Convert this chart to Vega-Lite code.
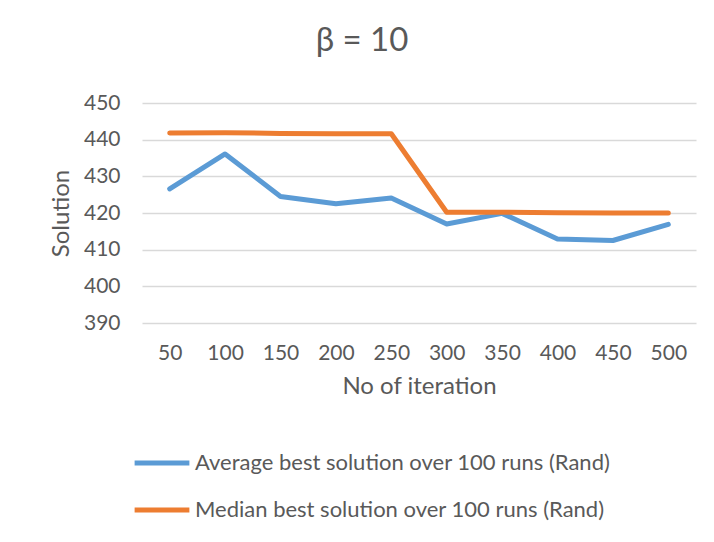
{
  "$schema": "https://vega.github.io/schema/vega-lite/v6.json",
  "autosize": {"type": "none"},
  "padding": {"left": 142, "top": 103, "right": 18, "bottom": 219},
  "width": 554,
  "height": 220,
  "background": "white",
  "title": {
    "text": "β = 10",
    "fontSize": 33,
    "font": "Lato",
    "fontWeight": "normal",
    "color": "#595959",
    "anchor": "middle",
    "dx": -57,
    "offset": 34
  },
  "data": {
    "values": [
      {"iter": "50", "series": "Average best solution over 100 runs (Rand)", "value": 426.6},
      {"iter": "100", "series": "Average best solution over 100 runs (Rand)", "value": 436.1},
      {"iter": "150", "series": "Average best solution over 100 runs (Rand)", "value": 424.5},
      {"iter": "200", "series": "Average best solution over 100 runs (Rand)", "value": 422.5},
      {"iter": "250", "series": "Average best solution over 100 runs (Rand)", "value": 424.1},
      {"iter": "300", "series": "Average best solution over 100 runs (Rand)", "value": 417.0},
      {"iter": "350", "series": "Average best solution over 100 runs (Rand)", "value": 419.9},
      {"iter": "400", "series": "Average best solution over 100 runs (Rand)", "value": 412.9},
      {"iter": "450", "series": "Average best solution over 100 runs (Rand)", "value": 412.5},
      {"iter": "500", "series": "Average best solution over 100 runs (Rand)", "value": 416.9},
      {"iter": "50", "series": "Median best solution over 100 runs (Rand)", "value": 441.8},
      {"iter": "100", "series": "Median best solution over 100 runs (Rand)", "value": 441.9},
      {"iter": "150", "series": "Median best solution over 100 runs (Rand)", "value": 441.7},
      {"iter": "200", "series": "Median best solution over 100 runs (Rand)", "value": 441.6},
      {"iter": "250", "series": "Median best solution over 100 runs (Rand)", "value": 441.6},
      {"iter": "300", "series": "Median best solution over 100 runs (Rand)", "value": 420.2},
      {"iter": "350", "series": "Median best solution over 100 runs (Rand)", "value": 420.2},
      {"iter": "400", "series": "Median best solution over 100 runs (Rand)", "value": 420.1},
      {"iter": "450", "series": "Median best solution over 100 runs (Rand)", "value": 420.0},
      {"iter": "500", "series": "Median best solution over 100 runs (Rand)", "value": 420.0}
    ]
  },
  "mark": {"type": "line", "strokeWidth": 5, "strokeCap": "round", "strokeJoin": "round"},
  "encoding": {
    "x": {
      "field": "iter",
      "type": "ordinal",
      "sort": null,
      "scale": {"type": "point", "padding": 0.5},
      "axis": {
        "title": "No of iteration",
        "labelAngle": 0,
        "labelFont": "Lato",
        "labelFontSize": 21,
        "labelColor": "#595959",
        "labelPadding": 19,
        "ticks": false,
        "domain": false,
        "titleFont": "Lato",
        "titleFontSize": 24,
        "titleFontWeight": "normal",
        "titleColor": "#595959",
        "titlePadding": 11
      }
    },
    "y": {
      "field": "value",
      "type": "quantitative",
      "scale": {"domain": [390, 450], "nice": false, "zero": false},
      "axis": {
        "title": "Solution",
        "values": [390, 400, 410, 420, 430, 440, 450],
        "labelFont": "Lato",
        "labelFontSize": 21,
        "labelColor": "#595959",
        "labelPadding": 22,
        "ticks": false,
        "domain": false,
        "gridColor": "#d9d9d9",
        "gridWidth": 1.3,
        "titleFont": "Lato",
        "titleFontSize": 24,
        "titleFontWeight": "normal",
        "titleColor": "#595959",
        "titlePadding": 10
      }
    },
    "color": {
      "field": "series",
      "type": "nominal",
      "scale": {
        "domain": ["Average best solution over 100 runs (Rand)", "Median best solution over 100 runs (Rand)"],
        "range": ["#5b9bd5", "#ed7d31"]
      },
      "legend": {
        "title": null,
        "orient": "none",
        "legendX": -10,
        "legendY": 330,
        "direction": "vertical",
        "symbolType": "stroke",
        "symbolSize": 3000,
        "symbolStrokeWidth": 5,
        "labelFont": "Lato",
        "labelFontSize": 22,
        "labelColor": "#595959",
        "labelOffset": 3,
        "labelLimit": 600,
        "rowPadding": 6
      }
    }
  },
  "config": {"view": {"stroke": null}}
}
